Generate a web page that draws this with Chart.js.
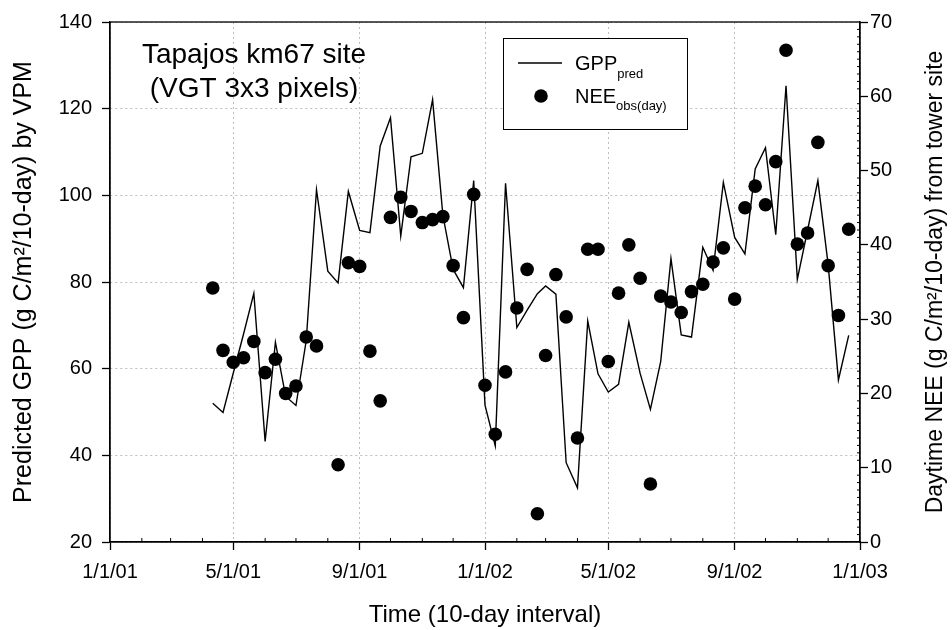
<!DOCTYPE html>
<html>
<head>
<meta charset="utf-8">
<script src="https://cdn.jsdelivr.net/npm/chart.js@4.4.1/dist/chart.umd.min.js"></script>
<style>
  html, body { margin: 0; padding: 0; background: #fff; }
</style>
</head>
<body>
<canvas id="chart" width="952" height="630"></canvas>
<script>
// 10-day composites (dekads), Tapajos km67
const dates = [
  '2001-04-11','2001-04-21','2001-05-01','2001-05-11','2001-05-21','2001-06-01','2001-06-11','2001-06-21',
  '2001-07-01','2001-07-11','2001-07-21','2001-08-01','2001-08-11','2001-08-21','2001-09-01','2001-09-11',
  '2001-09-21','2001-10-01','2001-10-11','2001-10-21','2001-11-01','2001-11-11','2001-11-21','2001-12-01',
  '2001-12-11','2001-12-21',
  '2002-01-01','2002-01-11','2002-01-21','2002-02-01','2002-02-11','2002-02-21','2002-03-01','2002-03-11',
  '2002-03-21','2002-04-01','2002-04-11','2002-04-21','2002-05-01','2002-05-11','2002-05-21','2002-06-01',
  '2002-06-11','2002-06-21','2002-07-01','2002-07-11','2002-07-21','2002-08-01','2002-08-11','2002-08-21',
  '2002-09-01','2002-09-11','2002-09-21','2002-10-01','2002-10-11','2002-10-21','2002-11-01','2002-11-11',
  '2002-11-21','2002-12-01','2002-12-11','2002-12-21'
];

// GPP predicted by VPM (left axis)
const gppPred = [
  52.0, 49.9, 59.0, 68.0, 77.4, 43.2, 66.1, 53.6, 51.5, 66.5, 101.3, 82.5, 79.8, 100.9, 91.9, 91.4,
  111.4, 117.9, 90.6, 108.9, 109.7, 122.1, 95.4, 82.9, 78.7, 103.4,
  51.6, 42.2, 102.8, 69.5, 73.5, 77.3, 79.1, 77.2, 38.3, 32.5, 71.0, 58.8, 54.6, 56.4, 70.7, 58.9,
  50.6, 61.6, 85.4, 67.8, 67.3, 88.0, 82.7, 103.0, 90.3, 86.5, 106.1, 111.0, 90.9, 125.3, 80.6, 92.0,
  103.4, 84.0, 57.4, 67.7
];

// daytime NEE observed at the tower (right axis)
const neeObs = [
  34.2, 25.8, 24.2, 24.8, 27.0, 22.8, 24.6, 20.0, 21.0, 27.6, 26.4, null, 10.4, 37.6, 37.1, 25.7,
  19.0, 43.7, 46.4, 44.5, 43.0, 43.4, 43.8, 37.2, 30.2, 46.8,
  21.1, 14.5, 22.9, 31.5, 36.7, 3.8, 25.1, 36.0, 30.3, 14.0, 39.4, 39.4, 24.3, 33.5, 40.0, 35.5,
  7.8, 33.1, 32.3, 30.9, 33.7, 34.7, 37.7, 39.6, 32.7, 45.0, 47.9, 45.4, 51.2, 66.2, 40.1, 41.6,
  53.8, 37.2, 30.5, 42.1
];

const tickDates = ['2001-01-01','2001-05-01','2001-09-01','2002-01-01','2002-05-01','2002-09-01','2003-01-01'];
const tickLabels = ['1/1/01','5/1/01','9/1/01','1/1/02','5/1/02','9/1/02','1/1/03'];

const FONT = "'Liberation Sans', Arial, sans-serif";
const dayNum = s => (Date.parse(s) - Date.parse('2001-01-01')) / 86400000;
const tickDays = tickDates.map(dayNum);

Chart.defaults.color = '#000';

// in-plot caption, legend box, right axis title, minor ticks, top frame
const decor = {
  id: 'decor',
  afterDraw(chart) {
    const { ctx, chartArea: a, scales } = chart;
    ctx.save();

    // frame
    ctx.strokeStyle = '#000';
    ctx.lineWidth = 1.3;
    ctx.setLineDash([]);
    ctx.strokeRect(a.left, a.top, a.right - a.left, a.bottom - a.top);

    // minor ticks: months on x, units on right axis
    ctx.lineWidth = 1;
    ctx.beginPath();
    for (let y = 2001; y <= 2002; y++) {
      for (let m = 0; m < 12; m++) {
        const d = (Date.UTC(y, m, 1) - Date.UTC(2001, 0, 1)) / 86400000;
        if (tickDays.includes(d)) continue;
        const px = scales.x.getPixelForValue(d);
        ctx.moveTo(px, a.bottom);
        ctx.lineTo(px, a.bottom - 4);
      }
    }
    for (let v = 1; v < 70; v++) {
      if (v % 10 === 0) continue;
      const py = scales.y2.getPixelForValue(v);
      ctx.moveTo(a.right, py);
      ctx.lineTo(a.right - 3, py);
    }
    ctx.stroke();

    // caption
    ctx.fillStyle = '#000';
    ctx.textAlign = 'center';
    ctx.textBaseline = 'alphabetic';
    ctx.font = '28px ' + FONT;
    ctx.fillText('Tapajos km67 site', 254, 63);
    ctx.fillText('(VGT 3x3 pixels)', 254, 97);

    // legend box
    const bx = 503, by = 38, bw = 184, bh = 91;
    ctx.fillStyle = '#fff';
    ctx.fillRect(bx, by, bw, bh);
    ctx.strokeStyle = '#000';
    ctx.lineWidth = 1;
    ctx.strokeRect(bx + 0.5, by + 0.5, bw, bh);

    ctx.lineWidth = 1.4;
    ctx.beginPath();
    ctx.moveTo(518, 63);
    ctx.lineTo(562, 63);
    ctx.stroke();
    ctx.fillStyle = '#000';
    ctx.beginPath();
    ctx.arc(541, 96, 6.8, 0, Math.PI * 2);
    ctx.fill();

    ctx.textAlign = 'left';
    ctx.font = '20px ' + FONT;
    ctx.fillText('GPP', 575, 70);
    let w = ctx.measureText('GPP').width;
    ctx.font = '13px ' + FONT;
    ctx.fillText('pred', 575 + w, 78);
    ctx.font = '20px ' + FONT;
    ctx.fillText('NEE', 575, 103);
    w = ctx.measureText('NEE').width;
    ctx.font = '13px ' + FONT;
    ctx.fillText('obs(day)', 575 + w, 110);

    // right axis title, reading bottom to top
    ctx.translate(936, (a.top + a.bottom) / 2);
    ctx.rotate(-Math.PI / 2);
    ctx.textAlign = 'center';
    ctx.textBaseline = 'middle';
    ctx.font = '23px ' + FONT;
    ctx.fillText('Daytime NEE (g C/m\u00B2/10-day) from tower site', 0, 0);
    ctx.restore();
  }
};

new Chart(document.getElementById('chart'), {
  data: {
    datasets: [
      {
        type: 'line',
        label: 'GPP pred',
        data: dates.map((d, i) => ({ x: dayNum(d), y: gppPred[i] })),
        yAxisID: 'y',
        borderColor: '#000',
        borderWidth: 1.4,
        pointRadius: 0,
        fill: false,
        tension: 0
      },
      {
        type: 'scatter',
        label: 'NEE obs(day)',
        data: dates.map((d, i) => ({ x: dayNum(d), y: neeObs[i] })).filter(p => p.y !== null),
        yAxisID: 'y2',
        backgroundColor: '#000',
        borderColor: '#000',
        borderWidth: 0,
        pointRadius: 6.8,
        pointHoverRadius: 6.8
      }
    ]
  },
  options: {
    responsive: false,
    animation: false,
    devicePixelRatio: 1,
    layout: { padding: { top: 15, left: 0, right: 0, bottom: 0 } },
    plugins: { legend: { display: false }, tooltip: { enabled: false } },
    scales: {
      x: {
        type: 'linear',
        position: 'bottom',
        min: 0,
        max: dayNum('2003-01-01'),
        afterBuildTicks: s => { s.ticks = tickDays.map(v => ({ value: v })); },
        afterFit: s => { s.height = 88; },
        ticks: {
          callback: v => tickLabels[tickDays.indexOf(v)],
          font: { family: FONT, size: 20 },
          padding: 10,
          maxRotation: 0,
          autoSkip: false
        },
        grid: { color: '#bdbdbd', tickColor: '#000', tickLength: 8, tickWidth: 1.3 },
        border: { color: '#000', width: 1.3, dash: [2, 3] },
        title: {
          display: true,
          text: 'Time (10-day interval)',
          font: { family: FONT, size: 24 },
          padding: { top: 0, bottom: 0 }
        }
      },
      y: {
        position: 'left',
        min: 20,
        max: 140,
        afterFit: s => { s.width = 110; },
        ticks: { stepSize: 20, font: { family: FONT, size: 20 }, padding: 10 },
        grid: { color: '#bdbdbd', tickColor: '#000', tickLength: 8, tickWidth: 1.3 },
        border: { color: '#000', width: 1.3, dash: [2, 3] },
        title: {
          display: true,
          text: 'Predicted GPP (g C/m\u00B2/10-day) by VPM',
          font: { family: FONT, size: 25 },
          padding: { top: 9, bottom: 0 }
        }
      },
      y2: {
        position: 'right',
        min: 0,
        max: 70,
        afterFit: s => { s.width = 92; },
        ticks: { stepSize: 10, font: { family: FONT, size: 20 }, padding: 2 },
        grid: { drawOnChartArea: false, color: '#000', tickLength: 8, tickWidth: 1.3 },
        border: { color: '#000', width: 1.3 }
      }
    }
  },
  plugins: [decor]
});
</script>
</body>
</html>
